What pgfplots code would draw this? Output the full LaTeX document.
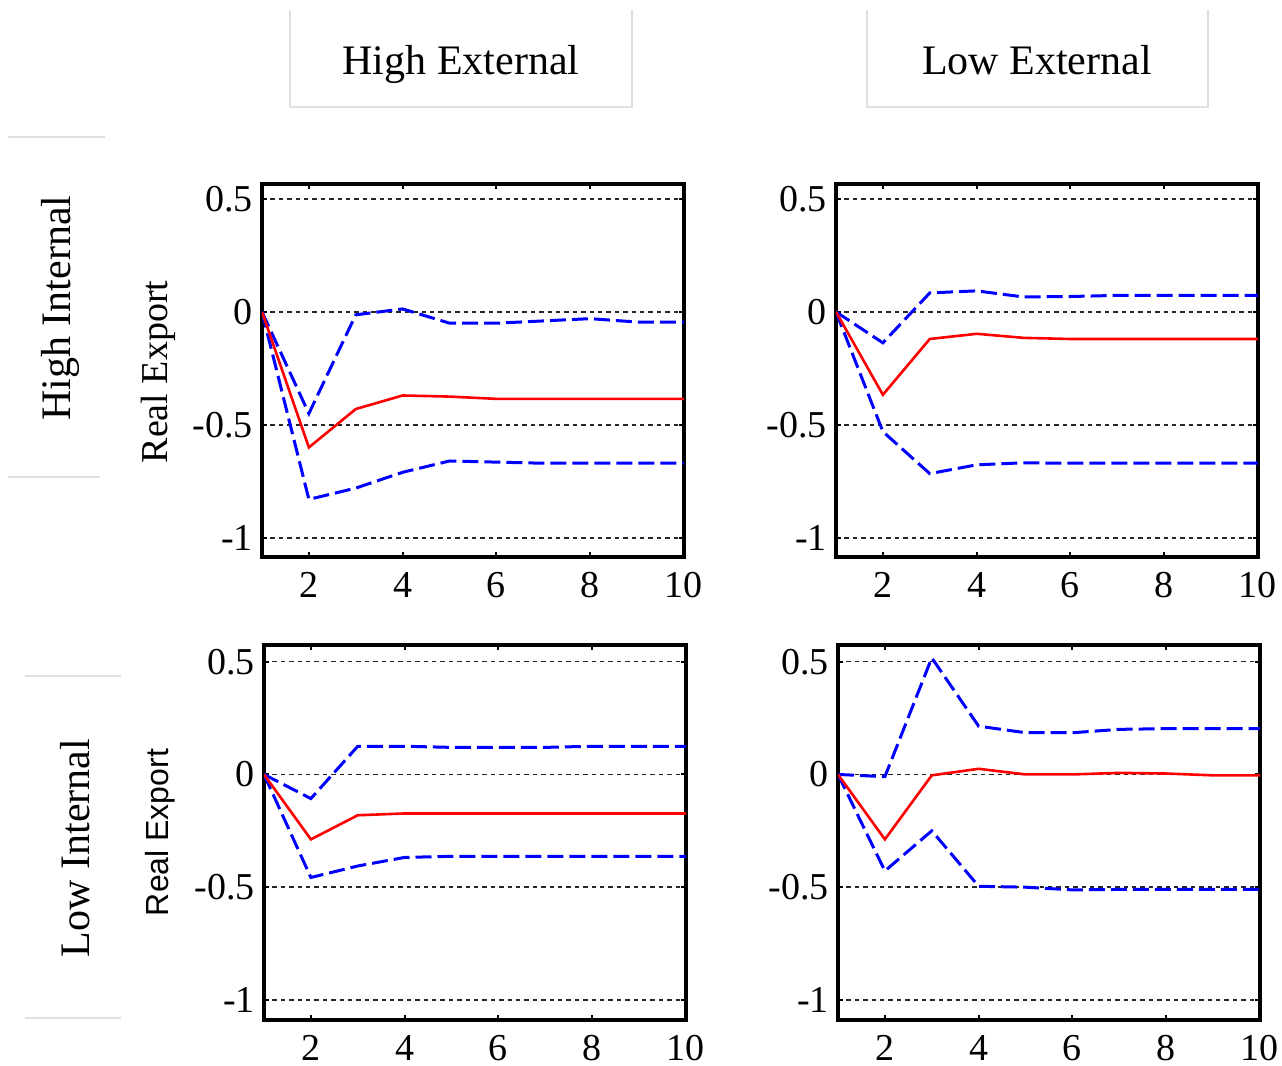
\documentclass[border=0pt]{standalone}
\usepackage{pgfplots}
\pgfplotsset{compat=1.18}
\usepackage{pgfplotstable}
\usepackage{fontspec}
\setmainfont{Liberation Serif}
\newfontfamily\arialf{Liberation Sans}

% columns: horizon, median (red), upper band, lower band
\pgfplotstableread{
x   med     up      lo
1   0       0       0
2   -0.60   -0.45   -0.83
3   -0.43   -0.013  -0.78
4   -0.37   0.013   -0.71
5   -0.375  -0.05   -0.66
6   -0.385  -0.05   -0.665
7   -0.385  -0.04   -0.67
8   -0.385  -0.03   -0.67
9   -0.385  -0.045  -0.67
10  -0.385  -0.045  -0.67
}\tabHH
\pgfplotstableread{
x   med     up      lo
1   0       0       0
2   -0.367  -0.137  -0.53
3   -0.12   0.084   -0.716
4   -0.097  0.093   -0.677
5   -0.115  0.066   -0.668
6   -0.12   0.068   -0.67
7   -0.12   0.073   -0.67
8   -0.12   0.073   -0.67
9   -0.12   0.073   -0.67
10  -0.12   0.073   -0.67
}\tabHL
\pgfplotstableread{
x   med     up      lo
1   0       0       0
2   -0.288  -0.107  -0.457
3   -0.181  0.125   -0.406
4   -0.173  0.125   -0.368
5   -0.173  0.12    -0.363
6   -0.173  0.12    -0.363
7   -0.173  0.12    -0.363
8   -0.173  0.125   -0.363
9   -0.173  0.125   -0.363
10  -0.173  0.125   -0.363
}\tabLH
\pgfplotstableread{
x   med     up      lo
1   0       0       0
2   -0.288  -0.01   -0.428
3   -0.004  0.517   -0.25
4   0.025   0.214   -0.496
5   0       0.185   -0.5
6   0       0.185   -0.512
7   0.007   0.2     -0.51
8   0.004   0.203   -0.51
9   -0.004  0.203   -0.51
10  -0.004  0.203   -0.51
}\tabLL

\pgfplotsset{
  irf/.style={
    scale only axis, width=211pt,
    xmin=1, xmax=10, ymin=-1.085, ymax=0.566,
    xtick={2,4,6,8,10}, xticklabels={2,4,6,8,10},
    ytick={-1,-0.5,0,0.5}, yticklabels={-1,-0.5,0,0.5},
    ymajorgrids,
    grid style={black!85, line width=0.8pt, dash pattern=on 2.2pt off 2pt},
    separate axis lines,
    axis line style={line width=2pt, line cap=rect},
    tick style={black, line width=1pt},
    major tick length=2.5pt, tick align=inside,
    ticklabel style={font=\fontsize{19}{22}\selectfont},
    xticklabel style={yshift=-4pt},
    yticklabel style={xshift=-1pt},
    ylabel style={font=\fontsize{19}{22}\selectfont, anchor=center},
  },
  medline/.style={red, line width=1.3pt},
  band/.style={blue, line width=1.5pt, dash pattern=on 8pt off 3pt},
}

\begin{document}
\begin{tikzpicture}
\useasboundingbox (0,0) rectangle (641pt,-533pt);

% column headers
\draw[black!12, line width=1pt] (145pt,-5pt) -- (145pt,-53.5pt) -- (316pt,-53.5pt) -- (316pt,-5pt);
\node[anchor=base, font=\fontsize{21}{24}\selectfont] at (230.5pt,-37pt) {High External};
\draw[black!12, line width=1pt] (433.5pt,-5pt) -- (433.5pt,-53.5pt) -- (604pt,-53.5pt) -- (604pt,-5pt);
\node[anchor=base, font=\fontsize{21}{24}\selectfont] at (518.5pt,-37pt) {Low External};

% row headers
\draw[black!12, line width=1pt] (4pt,-68.5pt) -- (52.5pt,-68.5pt);
\draw[black!12, line width=1pt] (4pt,-238.5pt) -- (50pt,-238.5pt);
\node[rotate=90, font=\fontsize{21}{24}\selectfont] at (30pt,-154pt) {High Internal};
\draw[black!12, line width=1pt] (12.5pt,-338pt) -- (60.5pt,-338pt);
\draw[black!12, line width=1pt] (12.5pt,-509pt) -- (60.5pt,-509pt);
\node[rotate=90, font=\fontsize{21}{24}\selectfont] at (37.5pt,-424pt) {Low Internal};

% top left
\begin{axis}[irf, height=186.5pt, at={(131pt,-278.5pt)}, anchor=south west,
  ylabel={Real Export}, ylabel style={at={(axis description cs:-0.245,0.496)}}]
  \addplot[band] table[x=x, y=up] {\tabHH};
  \addplot[band] table[x=x, y=lo] {\tabHH};
  \addplot[medline] table[x=x, y=med] {\tabHH};
\end{axis}

% top right
\begin{axis}[irf, height=186.5pt, at={(418pt,-278.5pt)}, anchor=south west]
  \addplot[band] table[x=x, y=up] {\tabHL};
  \addplot[band] table[x=x, y=lo] {\tabHL};
  \addplot[medline] table[x=x, y=med] {\tabHL};
\end{axis}

% bottom left
\begin{axis}[irf, height=187.5pt, ymin=-1.089, ymax=0.574,
  at={(132pt,-510pt)}, anchor=south west,
  ylabel={Real Export},
  ylabel style={at={(axis description cs:-0.246,0.5)}, font=\arialf\fontsize{16}{19}\selectfont}]
  \addplot[band] table[x=x, y=up] {\tabLH};
  \addplot[band] table[x=x, y=lo] {\tabLH};
  \addplot[medline] table[x=x, y=med] {\tabLH};
\end{axis}

% bottom right
\begin{axis}[irf, height=187.5pt, ymin=-1.089, ymax=0.574,
  at={(419pt,-510pt)}, anchor=south west]
  \addplot[band] table[x=x, y=up] {\tabLL};
  \addplot[band] table[x=x, y=lo] {\tabLL};
  \addplot[medline] table[x=x, y=med] {\tabLL};
\end{axis}
\end{tikzpicture}
\end{document}
